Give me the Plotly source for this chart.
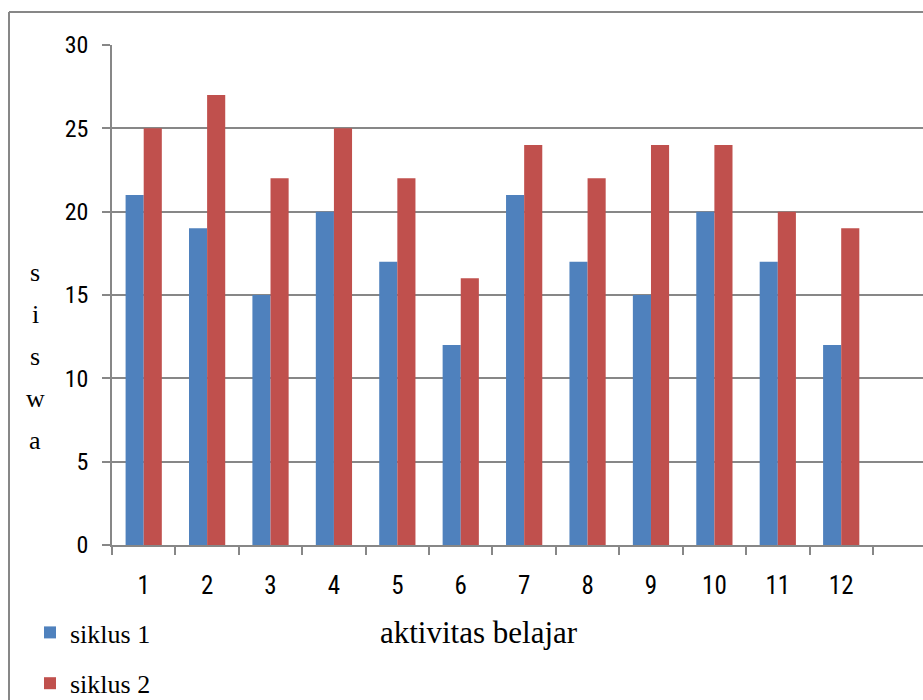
import plotly.graph_objects as go

# Jumlah siswa per aktivitas belajar, siklus 1 dan siklus 2
kategori = ["1", "2", "3", "4", "5", "6", "7", "8", "9", "10", "11", "12"]
siklus_1 = [21, 19, 15, 20, 17, 12, 21, 17, 15, 20, 17, 12]
siklus_2 = [25, 27, 22, 25, 22, 16, 24, 22, 24, 24, 20, 19]
y_ticks = [0, 5, 10, 15, 20, 25, 30]

BLUE = "#4F81BD"
RED = "#C0504D"
GRAY = "#878787"
SERIF = "Liberation Serif, Times New Roman, serif"
SANS = "Liberation Sans Narrow, Arial Narrow, Roboto Condensed, Liberation Sans, sans-serif"

fig = go.Figure()
fig.add_trace(go.Bar(x=kategori, y=siklus_1, name="siklus 1", marker_color=BLUE,
                     marker_line_width=0, legendgroup="a"))
fig.add_trace(go.Bar(x=kategori, y=siklus_2, name="siklus 2", marker_color=RED,
                     marker_line_width=0, legendgroup="b"))

L, T, B = 112, 45, 155
W, H = 923, 700
pw, ph = W - L, H - T - B


def px_x(v):
    return (v - L) / pw


def px_y(v):
    return (H - B - v) / ph


fig.update_layout(
    width=W, height=H,
    margin=dict(l=L, r=0, t=T, b=B, pad=0, autoexpand=False),
    paper_bgcolor="white", plot_bgcolor="white",
    barmode="group", bargap=0.4286, bargroupgap=0,
    showlegend=True,
    legend=dict(x=px_x(30), y=px_y(609), xanchor="left", yanchor="top",
                font=dict(family=SERIF, size=26, color="black"),
                tracegroupgap=14, itemsizing="constant", bgcolor="rgba(0,0,0,0)"),
    xaxis=dict(type="category", range=[-0.5, 12.29], tickson="boundaries",
               ticks="outside", ticklen=8, tickcolor=GRAY, tickwidth=1.5,
               showline=True, linecolor=GRAY, linewidth=1.5, showgrid=False,
               tickfont=dict(family=SANS, size=25, color="black"),
               ticklabelstandoff=17, zeroline=False),
    yaxis=dict(range=[0, 30], tickvals=y_ticks, ticks="outside", ticklen=8,
               tickcolor=GRAY, tickwidth=1.5, showline=True, linecolor=GRAY,
               linewidth=1.5, showgrid=True, gridcolor=GRAY, gridwidth=1.5,
               tickfont=dict(family=SANS, size=24, color="black"),
               ticklabelstandoff=9, zeroline=False),
)

# Outer chart border (left and top edges)
fig.add_shape(type="line", xref="paper", yref="paper",
              x0=px_x(9), x1=px_x(9), y0=px_y(12), y1=px_y(720),
              line=dict(color=GRAY, width=2))
fig.add_shape(type="line", xref="paper", yref="paper",
              x0=px_x(9), x1=px_x(930), y0=px_y(12), y1=px_y(12),
              line=dict(color=GRAY, width=2))

# Vertical y-axis title, one letter per row
for i, ch in enumerate("siswa"):
    fig.add_annotation(text=ch, xref="paper", yref="paper",
                       x=px_x(35), y=px_y(272 + 42 * i), showarrow=False,
                       xanchor="center", yanchor="middle",
                       font=dict(family=SERIF, size=26, color="black"))

# x-axis title
fig.add_annotation(text="aktivitas belajar", xref="paper", yref="paper",
                   x=px_x(479), y=px_y(632), showarrow=False,
                   xanchor="center", yanchor="middle",
                   font=dict(family=SERIF, size=31, color="black"))

fig.write_html("out.html")
